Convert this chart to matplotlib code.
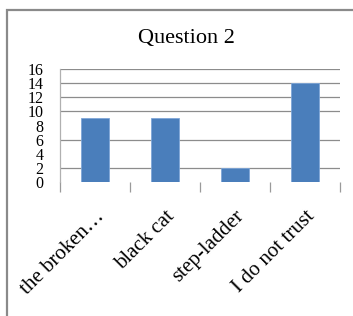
import matplotlib
matplotlib.use("Agg")
import matplotlib.pyplot as plt
from matplotlib.patches import Rectangle
import numpy as np

categories = ["the broken…", "black cat", "step-ladder", "I do not trust"]
values = [9, 9, 2, 14]
y_ticks = [0, 2, 4, 6, 8, 10, 12, 14, 16]
grid_values = [2, 6, 10, 12, 14, 16]
title = "Question 2"

plt.rcParams['font.family'] = ['Liberation Serif', 'DejaVu Serif']

W, H = 353, 316
fig = plt.figure(figsize=(W / 100, H / 100), dpi=100)

# outer chart frame (cropped at right and bottom)
fig.patches.append(Rectangle((7 / W, -0.2), 1.2, 1 - 10 / H + 0.2,
                             transform=fig.transFigure, fill=False,
                             edgecolor='#8a8a8a', linewidth=1.6))

left, right = 60 / W, 340 / W
bottom, top = 1 - 182 / H, 1 - 69 / H
ax = fig.add_axes([left, bottom, right - left, top - bottom])

x = np.arange(len(categories))
ax.bar(x, values, width=0.4, color='#4A7EBB', edgecolor='#7ea6d8',
       linewidth=0.6, zorder=3)

ax.set_xlim(-0.5, len(categories) - 0.5)
ax.set_ylim(0, 16)

for g in grid_values:
    ax.axhline(g, color='#8c8c8c', linewidth=0.9, zorder=1)

ax.set_yticks(y_ticks)
ax.set_yticklabels([str(t) for t in y_ticks], fontsize=11.5)
ax.tick_params(axis='y', length=0, pad=12)

ax.set_xticks(x)
ax.set_xticklabels(categories, rotation=45, ha='right', va='top',
                   rotation_mode='anchor', fontsize=15)
ax.tick_params(axis='x', length=0, pad=18)
ax.set_xticks(np.arange(-0.5, len(categories)), minor=True)
ax.tick_params(axis='x', which='minor', length=7, width=0.9,
               color='#9a9a9a', direction='out')

for s in ['top', 'right', 'bottom']:
    ax.spines[s].set_visible(False)
ax.spines['left'].set_color('#b0b0b0')
ax.spines['left'].set_linewidth(0.9)

fig.text(186 / W, 1 - 38 / H, title, ha='center', va='center', fontsize=16)

fig.savefig("out.png", dpi=100)
